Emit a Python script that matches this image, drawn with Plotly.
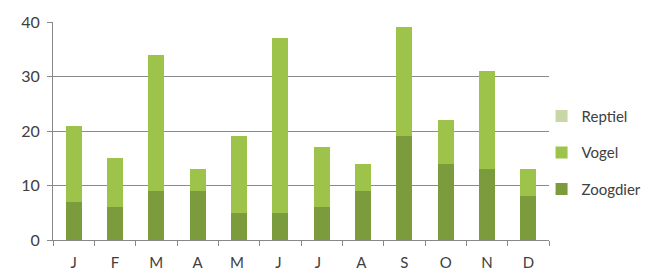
import plotly.graph_objects as go

months = ["J", "F", "M", "A", "M ", "J ", "J  ", "A ", "S", "O", "N", "D"]
zoogdier = [7, 6, 9, 9, 5, 5, 6, 9, 19, 14, 13, 8]
vogel = [14, 9, 25, 4, 14, 32, 11, 5, 20, 8, 18, 5]
reptiel = [0, 0, 0, 0, 0, 0, 0, 0, 0, 0, 0, 0]
y_ticks = [0, 10, 20, 30, 40]

fig = go.Figure()
series = [("Zoogdier", zoogdier, "#7c9b3c", 3), ("Vogel", vogel, "#9dc34a", 2), ("Reptiel", reptiel, "#c9d6a8", 1)]
for name, vals, col, rank in series:
    fig.add_trace(go.Bar(x=months, y=vals, name=name, marker_color=col,
                         marker_line_width=0, legendgroup=name, legendrank=rank))

fig.update_layout(
    barmode="stack",
    bargap=0.61,
    width=669, height=277,
    margin=dict(l=45, r=128, t=14, b=45, autoexpand=False),
    plot_bgcolor="white", paper_bgcolor="white",
    font=dict(family="Lato", size=14, color="#404040"),
    legend=dict(x=0.985, y=0.40, yanchor="middle", xanchor="left", xref="paper",
                bgcolor="rgba(0,0,0,0)",
                traceorder="grouped", tracegroupgap=14,
                font=dict(size=15, color="#404040"), itemwidth=30),
    xaxis=dict(tickson="boundaries", ticks="outside", ticklen=5, tickcolor="#888",
               showline=True, linecolor="#888", linewidth=1, automargin=False,
               ticklabelstandoff=9, tickfont=dict(size=15, color="#404040"),
               range=[-0.5, 11.5]),
    yaxis=dict(range=[0, 40], tickvals=y_ticks, ticks="outside", ticklen=5, tickcolor="#888",
               showline=True, linecolor="#888", linewidth=1, automargin=False,
               showgrid=True, gridcolor="#8a8a8a", gridwidth=1,
               tickfont=dict(size=16, color="#404040"), ticklabelstandoff=4,
               zeroline=False),
)

fig.write_html("out.html")
